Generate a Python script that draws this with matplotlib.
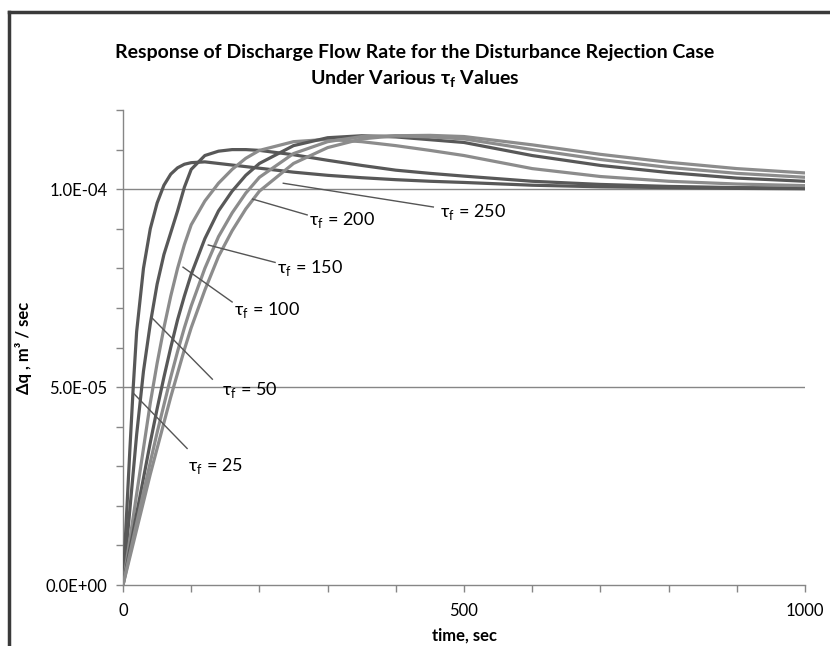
import numpy as np
import matplotlib
matplotlib.use("Agg")
import matplotlib.pyplot as plt
from matplotlib.ticker import MultipleLocator, FixedLocator

plt.rcParams['font.family'] = ['Lato', 'Open Sans', 'DejaVu Sans']

# time points (sec) and responses (units of 1E-5 m3/sec)
t = [0, 5, 10, 15, 20, 30, 40, 50, 60, 70, 80, 90, 100, 120, 140, 160, 180, 200,
     250, 300, 350, 400, 450, 500, 600, 700, 800, 900, 1000]
q_25 = [0, 1.7, 3.4, 5.0, 6.4, 8.0, 9.0, 9.65, 10.1, 10.38, 10.54, 10.63, 10.67, 10.69, 10.65, 10.61,
        10.57, 10.53, 10.43, 10.35, 10.29, 10.24, 10.2, 10.17, 10.1, 10.06, 10.04, 10.02, 10.01]
q_50 = [0, 0.95, 1.9, 2.85, 3.8, 5.4, 6.6, 7.6, 8.35, 8.9, 9.45, 10.05, 10.5, 10.85, 10.96, 11.0,
        11.0, 10.98, 10.87, 10.73, 10.6, 10.48, 10.4, 10.33, 10.2, 10.12, 10.07, 10.04, 10.03]
q_100 = [0, 0.58, 1.15, 1.72, 2.3, 3.45, 4.6, 5.6, 6.5, 7.3, 8.0, 8.6, 9.1, 9.7, 10.15, 10.5,
         10.78, 10.98, 11.2, 11.26, 11.2, 11.1, 10.98, 10.85, 10.52, 10.32, 10.2, 10.13, 10.09]
q_150 = [0, 0.45, 0.9, 1.35, 1.8, 2.7, 3.6, 4.45, 5.25, 6.0, 6.7, 7.3, 7.85, 8.75, 9.45, 9.95,
         10.35, 10.65, 11.1, 11.3, 11.35, 11.32, 11.25, 11.18, 10.85, 10.6, 10.42, 10.28, 10.2]
q_200 = [0, 0.39, 0.78, 1.17, 1.56, 2.34, 3.1, 3.85, 4.55, 5.25, 5.9, 6.5, 7.05, 8.0, 8.8, 9.4,
         9.9, 10.3, 10.9, 11.2, 11.33, 11.35, 11.32, 11.27, 11.0, 10.75, 10.55, 10.4, 10.3]
q_250 = [0, 0.35, 0.7, 1.05, 1.4, 2.1, 2.8, 3.45, 4.1, 4.75, 5.35, 5.95, 6.5, 7.45, 8.3, 8.95,
         9.5, 9.95, 10.65, 11.05, 11.27, 11.35, 11.36, 11.33, 11.12, 10.88, 10.68, 10.52, 10.41]

series = [
    (q_25, '#585858'), (q_50, '#585858'), (q_100, '#8c8c8c'),
    (q_150, '#585858'), (q_200, '#8c8c8c'), (q_250, '#8c8c8c'),
]

# label text, leader start on curve (t, q), leader end (t, q), text anchor (t, q)
labels = [
    ('250', (235, 10.15), (455, 9.55), (465, 9.42)),
    ('200', (190, 9.75), (270, 9.35), (272, 9.22)),
    ('150', (125, 8.59), (223, 8.15), (226, 8.0)),
    ('100', (88, 8.03), (160, 7.15), (163, 6.95)),
    ('50', (43, 6.74), (131, 5.2), (145, 4.93)),
    ('25', (15, 4.85), (94, 3.45), (96, 3.0)),
]

fig = plt.figure(figsize=(8.3, 6.46), dpi=100)
ax = fig.add_axes([0.1482, 0.0944, 0.8217, 0.7353])

for q, c in series:
    ax.plot(t, np.array(q) * 1e-5, color=c, lw=2.3, solid_capstyle='butt',
            solid_joinstyle='round', zorder=3)

for val, p_curve, p_line, p_text in labels:
    ax.plot([p_curve[0], p_line[0]], [p_curve[1] * 1e-5, p_line[1] * 1e-5],
            color='#555555', lw=1.0, zorder=4)
    ax.text(p_text[0], p_text[1] * 1e-5, 'τ$_\\mathregular{f}$ = ' + val,
            fontsize=13, va='center', ha='left', zorder=5)

ax.set_xlim(0, 1000)
ax.set_ylim(0, 1.2e-4)
ax.xaxis.set_major_locator(FixedLocator([0, 500, 1000]))
ax.xaxis.set_minor_locator(MultipleLocator(100))
ax.yaxis.set_major_locator(FixedLocator([0, 5e-5, 1e-4]))
ax.yaxis.set_minor_locator(MultipleLocator(1e-5))
ax.set_yticklabels(['0.0E+00', '5.0E-05', '1.0E-04'])
ax.set_xticklabels(['0', '500', '1000'])

for s in ['top', 'right']:
    ax.spines[s].set_visible(False)
for s in ['left', 'bottom']:
    ax.spines[s].set_color('#868686')
    ax.spines[s].set_linewidth(1.0)
ax.tick_params(which='both', direction='out', length=5, width=1, color='#868686',
               labelsize=12, pad=6)
ax.tick_params(axis='x', pad=8)
for y in [5e-5, 1e-4]:
    ax.axhline(y, color='#868686', lw=1.0, zorder=1)

ax.set_xlabel('time, sec', fontsize=12, fontweight='bold', labelpad=6)
ax.set_ylabel('Δq , m³ / sec', fontsize=12, fontweight='bold', labelpad=10)

fig.text(0.5, 0.918, 'Response of Discharge Flow Rate for the Disturbance Rejection Case',
         ha='center', va='center', fontsize=14, fontweight='bold')
fig.text(0.5, 0.877, 'Under Various τ$_\\mathregular{f}$ Values',
         ha='center', va='center', fontsize=14, fontweight='bold')

# outer chart frame
fig.add_artist(plt.Line2D([9 / 830, 9 / 830], [0, 1 - 12 / 646], color='#3a3a3a', lw=2.5))
fig.add_artist(plt.Line2D([9 / 830, 1], [1 - 12 / 646, 1 - 12 / 646], color='#3a3a3a', lw=2.5))

fig.savefig('out.png', dpi=100)
